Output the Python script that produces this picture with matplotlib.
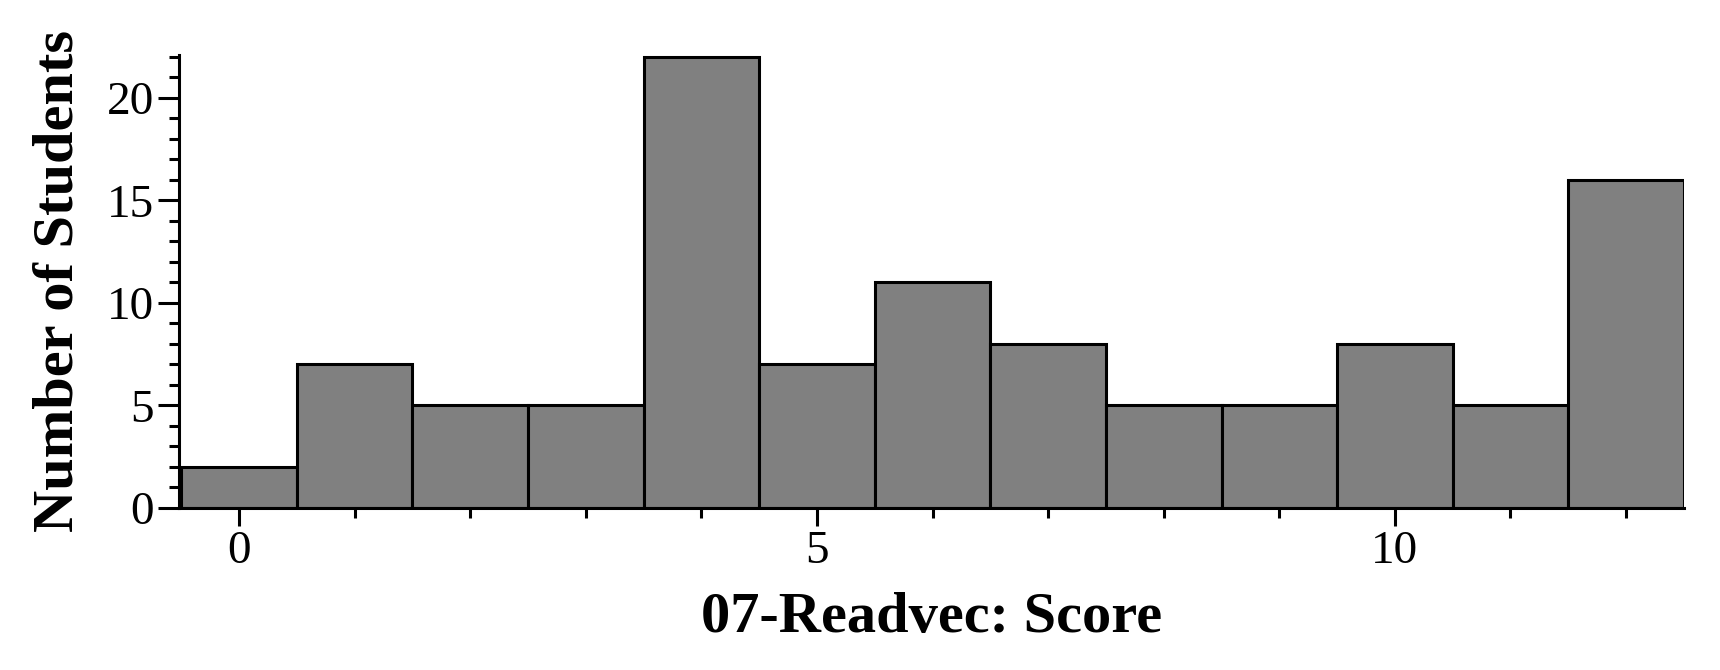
import numpy as np
import matplotlib.pyplot as plt
from matplotlib.ticker import MultipleLocator

# 数据
scores = list(range(13))
counts = [2, 7, 5, 5, 22, 7, 11, 8, 5, 5, 8, 5, 16]

plt.rcParams["font.family"] = ["Liberation Serif", "DejaVu Serif"]

fig = plt.figure(figsize=(17.2, 6.7), dpi=100)
ax = fig.add_axes([0.104, 0.242, 0.875, 0.676])

ax.bar(scores, counts, width=1.0, color="#808080", edgecolor="black", linewidth=2.2)

ax.set_xlim(-0.52, 12.5)
ax.set_ylim(0, 22.1)

ax.spines["top"].set_visible(False)
ax.spines["right"].set_visible(False)
ax.spines["left"].set_linewidth(2.2)
ax.spines["bottom"].set_linewidth(2.2)

ax.xaxis.set_major_locator(MultipleLocator(5))
ax.xaxis.set_minor_locator(MultipleLocator(1))
ax.yaxis.set_major_locator(MultipleLocator(5))
ax.yaxis.set_minor_locator(MultipleLocator(1))

ax.tick_params(axis="both", which="major", direction="out", width=2.2, labelsize=34)
ax.tick_params(axis="y", which="major", length=15, pad=3)
ax.tick_params(axis="x", which="major", length=13, pad=3)
ax.tick_params(axis="both", which="minor", direction="out", width=2.2, length=7)

ax.set_xlabel("07-Readvec: Score", fontsize=42, fontweight="bold", labelpad=14)
ax.set_ylabel("Number of Students", fontsize=42, fontweight="bold", labelpad=16)

fig.savefig("out.png", dpi=100)
